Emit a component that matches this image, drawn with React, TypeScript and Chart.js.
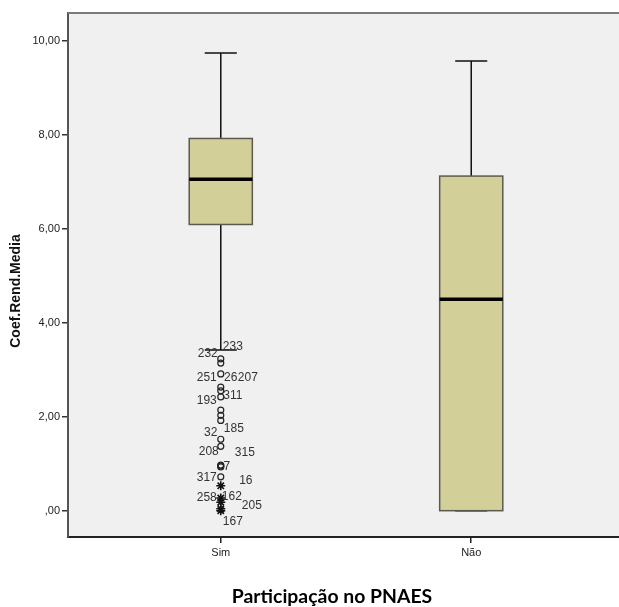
import React, { useEffect, useRef } from "react";
import { Chart, registerables } from "chart.js";

Chart.register(...registerables);

// ---- data ----
const categories = ["Sim", "Não"];
const whiskerLow = [3.42, 0.0];
const q1 = [6.09, 0.0];
const median = [7.05, 4.5];
const q3 = [7.92, 7.12];
const whiskerHigh = [9.74, 9.57];

// outliers of "Sim" (category index 0)
const circleOutliers = [3.23, 3.14, 2.91, 2.63, 2.55, 2.42, 2.14, 2.03, 1.92, 1.52, 1.37, 0.97, 0.95, 0.93, 0.72];
const starOutliers = [0.53, 0.27, 0.18, 0.04, 0.0];

// case labels: text, x (axis units), y (value units)
const labelTexts = ["233", "232", "251", "26", "207", "193", "311", "32", "185", "208", "315", "7", "317", "16", "258", "162", "205", "167"];
const labelX = [1.048, 0.948, 0.944, 1.04, 1.108, 0.944, 1.048, 0.96, 1.052, 0.952, 1.096, 1.024, 0.944, 1.1, 0.944, 1.044, 1.124, 1.048];
const labelY = [3.48, 3.33, 2.82, 2.84, 2.84, 2.33, 2.44, 1.65, 1.74, 1.25, 1.23, 0.93, 0.7, 0.63, 0.27, 0.29, 0.1, -0.24];

const yTicks = [0, 2, 4, 6, 8, 10];
const yTitle = "Coef.Rend.Media";
const xTitle = "Participação no PNAES";

const BOX_HALF = 0.126;
const CAP_HALF = 0.064;

const boxPlugin = {
  id: "boxPlugin",
  beforeDraw(chart: any) {
    const { ctx, chartArea } = chart;
    ctx.save();
    ctx.fillStyle = "#F0F0F0";
    ctx.fillRect(chartArea.left, chartArea.top, chartArea.right - chartArea.left, chartArea.bottom - chartArea.top);
    ctx.restore();
  },
  beforeDatasetsDraw(chart: any) {
    const { ctx, chartArea } = chart;
    const xs = chart.scales.x;
    const ys = chart.scales.y;
    ctx.save();
    // top border
    ctx.strokeStyle = "#7a7a7a";
    ctx.lineWidth = 2;
    ctx.beginPath();
    ctx.moveTo(chartArea.left, chartArea.top);
    ctx.lineTo(chartArea.right, chartArea.top);
    ctx.stroke();

    categories.forEach((_, i) => {
      const cx = xs.getPixelForValue(i + 1);
      const l = xs.getPixelForValue(i + 1 - BOX_HALF);
      const r = xs.getPixelForValue(i + 1 + BOX_HALF);
      const cl = xs.getPixelForValue(i + 1 - CAP_HALF);
      const cr = xs.getPixelForValue(i + 1 + CAP_HALF);
      const yLo = ys.getPixelForValue(whiskerLow[i]);
      const yQ1 = ys.getPixelForValue(q1[i]);
      const yMed = ys.getPixelForValue(median[i]);
      const yQ3 = ys.getPixelForValue(q3[i]);
      const yHi = ys.getPixelForValue(whiskerHigh[i]);

      ctx.strokeStyle = "#111";
      ctx.lineWidth = 1.5;
      ctx.beginPath();
      ctx.moveTo(cx, yHi);
      ctx.lineTo(cx, yQ3);
      ctx.moveTo(cx, yQ1);
      ctx.lineTo(cx, yLo);
      ctx.moveTo(cl, yHi);
      ctx.lineTo(cr, yHi);
      ctx.moveTo(cl, yLo);
      ctx.lineTo(cr, yLo);
      ctx.stroke();

      ctx.fillStyle = "#D3CF99";
      ctx.fillRect(l, yQ3, r - l, yQ1 - yQ3);
      ctx.strokeStyle = "#5a5a50";
      ctx.lineWidth = 1.5;
      ctx.strokeRect(l, yQ3, r - l, yQ1 - yQ3);

      ctx.strokeStyle = "#000";
      ctx.lineWidth = 3.5;
      ctx.beginPath();
      ctx.moveTo(l, yMed);
      ctx.lineTo(r, yMed);
      ctx.stroke();
    });
    ctx.restore();
  },
  afterDatasetsDraw(chart: any) {
    const { ctx } = chart;
    const xs = chart.scales.x;
    const ys = chart.scales.y;
    ctx.save();
    ctx.font = "12px 'Liberation Sans', Arial, sans-serif";
    ctx.fillStyle = "#333";
    ctx.textAlign = "center";
    ctx.textBaseline = "middle";
    labelTexts.forEach((t, i) => {
      ctx.fillText(t, xs.getPixelForValue(labelX[i]), ys.getPixelForValue(labelY[i]));
    });
    ctx.restore();
  },
  afterDraw(chart: any) {
    const { ctx } = chart;
    ctx.save();
    ctx.fillStyle = "#111";
    ctx.textAlign = "center";
    ctx.textBaseline = "middle";
    ctx.font = "bold 14px 'Liberation Sans', Arial, sans-serif";
    ctx.translate(16, 291);
    ctx.rotate(-Math.PI / 2);
    ctx.fillText(yTitle, 0, 0);
    ctx.restore();

    ctx.save();
    ctx.fillStyle = "#000";
    ctx.textAlign = "center";
    ctx.textBaseline = "middle";
    ctx.font = "bold 16px Lato, 'Open Sans', sans-serif";
    const w = ctx.measureText(xTitle).width;
    const size = Math.max(12, Math.min(22, (16 * 200) / w));
    ctx.font = `bold ${size.toFixed(1)}px Lato, 'Open Sans', sans-serif`;
    ctx.fillText(xTitle, 332, 597);
    ctx.restore();
  },
};

export default function App() {
  const ref = useRef<HTMLCanvasElement | null>(null);
  useEffect(() => {
    if (!ref.current) return;
    const chart = new Chart(ref.current, {
      type: "scatter",
      data: {
        datasets: [
          {
            data: circleOutliers.map((v) => ({ x: 1, y: v })),
            pointStyle: "circle",
            pointRadius: 3,
            pointBorderColor: "#222",
            pointBackgroundColor: "rgba(0,0,0,0)",
            pointBorderWidth: 1.2,
          },
          {
            data: starOutliers.map((v) => ({ x: 1, y: v })),
            pointStyle: "star",
            pointRadius: 4.5,
            pointBorderColor: "#111",
            pointBackgroundColor: "rgba(0,0,0,0)",
            pointBorderWidth: 1.6,
          },
        ],
      },
      plugins: [boxPlugin],
      options: {
        responsive: false,
        animation: false,
        layout: { autoPadding: false, padding: { top: 13, left: 0, right: 0, bottom: 0 } },
        plugins: { legend: { display: false }, tooltip: { enabled: false } },
        scales: {
          x: {
            type: "linear",
            min: 0.39,
            max: 2.59,
            afterBuildTicks: (scale: any) => {
              scale.ticks = categories.map((_, i) => ({ value: i + 1 }));
            },
            afterFit: (scale: any) => {
              scale.height = 70;
              scale.paddingLeft = 0;
              scale.paddingRight = 0;
            },
            ticks: {
              callback: (v: any) => categories[Math.round(v) - 1] ?? "",
              font: { family: "'Liberation Sans Narrow', 'Liberation Sans', Arial", size: 11 },
              color: "#222",
              padding: 3,
              maxRotation: 0,
            },
            grid: { display: true, drawOnChartArea: false, drawTicks: true, tickLength: 6, color: "#222", lineWidth: 1.5 },
            border: { display: true, color: "#222", width: 2 },
          },
          y: {
            min: -0.56,
            max: 10.59,
            afterBuildTicks: (scale: any) => {
              scale.ticks = yTicks.map((v) => ({ value: v }));
            },
            afterFit: (scale: any) => {
              scale.width = 68;
              scale.paddingTop = 0;
              scale.paddingBottom = 0;
            },
            ticks: {
              callback: (v: any) => (v === 0 ? ",00" : Number(v).toFixed(2).replace(".", ",")),
              font: { family: "'Liberation Sans', Arial", size: 11 },
              color: "#222",
              padding: 2,
            },
            grid: { display: true, drawOnChartArea: false, drawTicks: true, tickLength: 6, color: "#333", lineWidth: 1.5 },
            border: { display: true, color: "#555", width: 2 },
          },
        },
      },
    } as any);
    return () => chart.destroy();
  }, []);
  return (
    <div style={{ position: "absolute", left: 0, top: 0, width: 619, height: 607, background: "#fff" }}>
      <canvas ref={ref} width={619} height={607} style={{ display: "block" }} />
    </div>
  );
}
